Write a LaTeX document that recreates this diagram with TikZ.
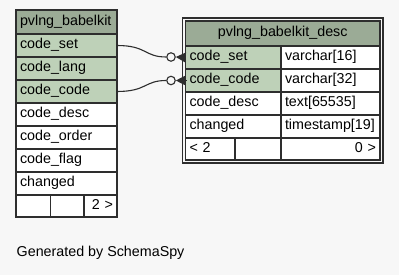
\documentclass[tikz,border=0pt]{standalone}
\usepackage{fontspec}
\setmainfont{Liberation Sans}
\usetikzlibrary{positioning, arrows.meta, backgrounds, fit}
\definecolor{headgreen}{HTML}{9BAB96}
\definecolor{keygreen}{HTML}{BED1B8}
\definecolor{canvas}{HTML}{F7F7F7}
\definecolor{edgegray}{HTML}{2E2E2E}

\begin{document}
\begin{tikzpicture}[
    x=1pt, y=-1pt,
    font=\fontsize{14.3}{16}\selectfont,
    % Styles
    cell/.style={rectangle, draw=edgegray, line width=1.2pt, fill=white, anchor=north west, outer sep=0pt, inner xsep=4pt, inner ysep=0pt, minimum height=23pt, text height=10pt, text depth=3pt, align=left},
    keycell/.style={cell, fill=keygreen},
    headcell/.style={cell, fill=headgreen, minimum height=24pt},
    footcell/.style={cell, minimum height=22pt},
    oring/.style={circle, draw=edgegray, fill=canvas, line width=1.1pt, minimum size=8.5pt, inner sep=0pt},
    link/.style={draw=edgegray, line width=1.1pt},
    crowfoot/.style={{Triangle[length=10pt, width=10pt]}-, edgegray, line width=1.1pt}
]

% ==================== CANVAS ====================
\useasboundingbox (0,0) rectangle (399,275);

% ==================== PVLNG_BABELKIT ====================
\node[headcell, text width=93pt] (lt_head) at (16,10) {pvlng\_babelkit};
\node[keycell, text width=93pt] (lt_set) at (16,34) {code\_set};
\node[keycell, text width=93pt] (lt_lang) at (16,57) {code\_lang};
\node[keycell, text width=93pt] (lt_code) at (16,80) {code\_code};
\node[cell, text width=93pt] (lt_desc) at (16,103) {code\_desc};
\node[cell, text width=93pt] (lt_order) at (16,126) {code\_order};
\node[cell, text width=93pt] (lt_flag) at (16,149) {code\_flag};
\node[cell, text width=93pt] (lt_changed) at (16,172) {changed};
\node[footcell, text width=26.5pt] (lt_f1) at (16,195) {};
\node[footcell, text width=25.5pt] (lt_f2) at (50.5,195) {};
\node[footcell, text width=25pt, align=right] (lt_f3) at (84,195) {2 >};

% ==================== PVLNG_BABELKIT_DESC ====================
\node[headcell, text width=186.5pt, align=center, minimum height=25pt] (rt_head) at (185.5,21) {pvlng\_babelkit\_desc};
\node[keycell, text width=87.5pt] (rt_set) at (185.5,46) {code\_set};
\node[cell, text width=91pt] (rt_set_type) at (281,46) {varchar[16]};
\node[keycell, text width=87.5pt] (rt_code) at (185.5,69) {code\_code};
\node[cell, text width=91pt] (rt_code_type) at (281,69) {varchar[32]};
\node[cell, text width=87.5pt] (rt_desc) at (185.5,92) {code\_desc};
\node[cell, text width=91pt] (rt_desc_type) at (281,92) {text[65535]};
\node[cell, text width=87.5pt] (rt_changed) at (185.5,115) {changed};
\node[cell, text width=91pt] (rt_changed_type) at (281,115) {timestamp[19]};
\node[footcell, text width=41.5pt] (rt_f1) at (185.5,138) {< 2};
\node[footcell, text width=38pt] (rt_f2) at (235,138) {};
\node[footcell, text width=91pt, align=right] (rt_f3) at (281,138) {0 >};

\begin{scope}[on background layer]
    \fill[canvas] (0,0) rectangle (399,275);
    \node[fit=(rt_head) (rt_f3), rectangle, draw=edgegray, line width=1.4pt, inner sep=3pt] (rt_frame) {};
\end{scope}

% ==================== RELATIONS ====================
\node[oring] (o_set) at (171,57) {};
\node[oring] (o_code) at (171,80.5) {};

\draw[link] (lt_set.east) .. controls +(30,0) and +(-22,0) .. (o_set.west);
\draw[link] (lt_code.east) .. controls +(30,0) and +(-22,0) .. (o_code.west);
\draw[crowfoot] (o_set.east) -- (rt_set.west);
\draw[crowfoot] (o_code.east) -- (rt_code.west);

% ==================== FOOTNOTE ====================
\node[anchor=base west, inner sep=0pt] (credit) at (16.5,257) {Generated by SchemaSpy};

\end{tikzpicture}
\end{document}
